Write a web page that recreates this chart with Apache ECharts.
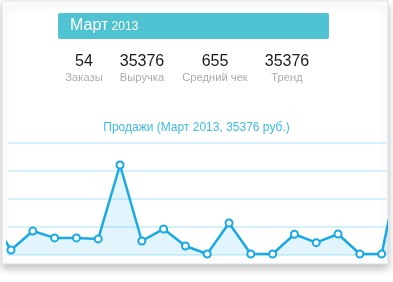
<!DOCTYPE html>
<html><head><meta charset="utf-8">
<script src="https://cdn.jsdelivr.net/npm/echarts@6/dist/echarts.min.js"></script>
<style>html,body{margin:0;padding:0;background:#fff;}#c{width:393px;height:282px;}</style>
</head><body><div id="c"></div>
<script>
var days = [0,1,2,3,4,5,6,7,8,9,10,11,12,13,14,15,16,17,18,19];
var sales = [2900,360,1710,1220,1220,1150,6430,1000,1860,640,70,2290,70,70,1480,880,1500,70,70,7500];
var statValues = ['54','35376','655','35376'];
var statLabels = ['Заказы','Выручка','Средний чек','Тренд'];
var headerMonth = 'Март';
var headerYear = '2013';
var chartTitle = 'Продажи (Март 2013, 35376 руб.)';
var yTicks = [0,2000,4000,6000,8000];

var statX = [84,142,215,287];
var graphics = [
  {type:'rect', shape:{x:2,y:1,width:386,height:263}, style:{fill:'#fff',stroke:'#dde3ea',lineWidth:1,shadowBlur:8,shadowOffsetY:4,shadowColor:'rgba(0,0,0,0.25)'}, z:-10},
  {type:'rect', shape:{x:58,y:13,width:271,height:26,r:2}, style:{fill:'#50c3d3'}},
  {type:'text', x:70, y:26, style:{text:'{a|'+headerMonth+'} {b|'+headerYear+'}', verticalAlign:'middle', rich:{a:{fontSize:16,fill:'#fff',fontFamily:'Liberation Sans'},b:{fontSize:12,fill:'#fff',fontFamily:'Liberation Sans',padding:[2,0,0,0]}}}}
];
statValues.forEach(function(v,i){
  graphics.push({type:'text', x:statX[i], y:62, style:{text:v, align:'center', verticalAlign:'middle', fontSize:16, fill:'#1a1a1a', fontFamily:'Liberation Sans'}});
  graphics.push({type:'text', x:statX[i], y:78, style:{text:statLabels[i], align:'center', verticalAlign:'middle', fontSize:11.2, fill:'#ababab', fontFamily:'Liberation Sans'}});
});

var chart = echarts.init(document.getElementById('c'));
chart.setOption({
  animation:false,
  title:{text:chartTitle, left:'center', top:117, textStyle:{fontSize:12, fontWeight:'normal', color:'#3dbbe9', fontFamily:'Liberation Sans'}},
  graphic:graphics,
  grid:{left:8, right:7, top:143, bottom:27},
  xAxis:{type:'value', min:0.862, max:18.2, show:false},
  yAxis:{type:'value', min:yTicks[0], max:yTicks[yTicks.length-1], interval:yTicks[1]-yTicks[0],
    axisLine:{show:false}, axisTick:{show:false}, axisLabel:{show:false},
    splitLine:{lineStyle:{color:'#c4ebfa', width:1.5}}},
  series:[{type:'line', clip:true,
    data: days.map(function(d,i){return [d, sales[i]];}),
    symbol:'circle', symbolSize:7, showAllSymbol:true,
    lineStyle:{color:'#19a9e5', width:2.5},
    itemStyle:{color:'#fff', borderColor:'#19a9e5', borderWidth:2},
    areaStyle:{color:'rgba(120,205,240,0.3)'}
  }]
});
</script></body></html>
